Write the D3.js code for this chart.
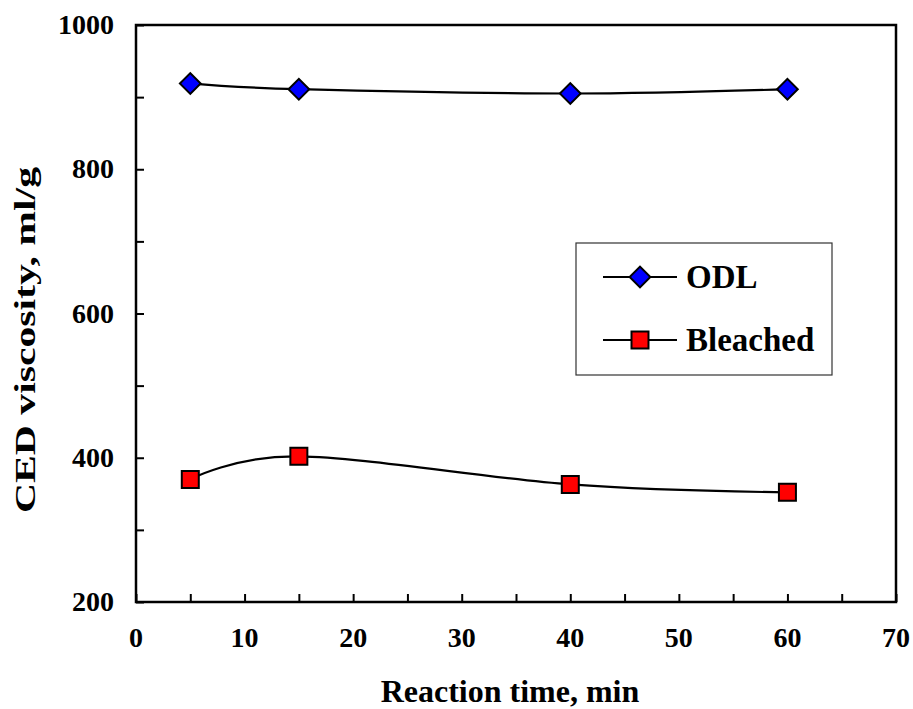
<!DOCTYPE html>
<html lang="en">
<head>
  <meta charset="UTF-8">
  <title>CED viscosity vs reaction time</title>
  <script src="https://d3js.org/d3.v7.min.js"></script>
  <style>
    body {
      margin: 0;
      background: #fff;
    }
    svg text {
      font-family: "Liberation Serif", "Times New Roman", serif;
      font-weight: bold;
      fill: #000;
    }
    .tick-label { font-size: 28px; }
    .axis-title { font-size: 32px; }
    .legend-label { font-size: 33px; }
  </style>
</head>
<body>
  <div id="chart"></div>

  <script>
    // data
    const times = [5, 15, 40, 60];
    const odl = [919, 911, 905, 911];
    const bleached = [370, 402, 363, 352];

    const xTickLabels = [0, 10, 20, 30, 40, 50, 60, 70];
    const yTickLabels = [200, 400, 600, 800, 1000];

    const width = 913;
    const height = 709;
    const plot = { left: 136, right: 896, top: 25, bottom: 602 };

    const svg = d3.select("#chart")
      .append("svg")
      .attr("width", width)
      .attr("height", height);

    const x = d3.scaleLinear().domain([0, 70]).range([plot.left, plot.right]);
    const y = d3.scaleLinear().domain([200, 1000]).range([plot.bottom, plot.top]);

    // inward ticks: x every 5, y every 100
    const xAxis = d3.axisBottom(x).tickValues(d3.range(0, 71, 5)).tickSize(-8).tickFormat("");
    const yAxis = d3.axisLeft(y).tickValues(d3.range(200, 1001, 100)).tickSize(-8).tickFormat("");

    svg.append("g")
      .attr("transform", `translate(0,${plot.bottom})`)
      .call(xAxis)
      .call(g => g.select(".domain").remove())
      .selectAll("line").attr("stroke", "#000").attr("stroke-width", 2);

    svg.append("g")
      .attr("transform", `translate(${plot.left},0)`)
      .call(yAxis)
      .call(g => g.select(".domain").remove())
      .selectAll("line").attr("stroke", "#000").attr("stroke-width", 2);

    // plot frame
    svg.append("rect")
      .attr("x", plot.left)
      .attr("y", plot.top)
      .attr("width", plot.right - plot.left)
      .attr("height", plot.bottom - plot.top)
      .attr("fill", "none")
      .attr("stroke", "#000")
      .attr("stroke-width", 2.5);

    // tick labels
    svg.selectAll(".x-label")
      .data(xTickLabels)
      .enter().append("text")
      .attr("class", "tick-label")
      .attr("x", d => x(d))
      .attr("y", 647)
      .attr("text-anchor", "middle")
      .text(d => d);

    svg.selectAll(".y-label")
      .data(yTickLabels)
      .enter().append("text")
      .attr("class", "tick-label")
      .attr("x", 114)
      .attr("y", d => y(d) + 9)
      .attr("text-anchor", "end")
      .text(d => d);

    // axis titles
    svg.append("text")
      .attr("class", "axis-title")
      .attr("x", 510)
      .attr("y", 702)
      .attr("text-anchor", "middle")
      .text("Reaction time, min");

    svg.append("text")
      .attr("class", "axis-title")
      .attr("transform", "translate(35,340) rotate(-90)")
      .attr("text-anchor", "middle")
      .attr("textLength", 346)
      .attr("lengthAdjust", "spacingAndGlyphs")
      .style("font-size", "30px")
      .text("CED viscosity, ml/g");

    // smoothed lines (Excel-style)
    const line = d3.line()
      .x(d => x(d[0]))
      .y(d => y(d[1]))
      .curve(d3.curveCardinal.tension(0));

    const series = [
      { name: "ODL", values: odl, fill: "#0000ff", rotate: 45, size: 215 },
      { name: "Bleached", values: bleached, fill: "#ff0000", rotate: 0, size: 289 }
    ];

    // diamond = square turned 45 degrees
    function marker(g, s) {
      g.append("path")
        .attr("d", d3.symbol().type(d3.symbolSquare).size(s.size)())
        .attr("transform", `rotate(${s.rotate})`)
        .attr("fill", s.fill)
        .attr("stroke", "#000")
        .attr("stroke-width", 2);
    }

    series.forEach(s => {
      const pts = times.map((t, i) => [t, s.values[i]]);

      svg.append("path")
        .datum(pts)
        .attr("d", line)
        .attr("fill", "none")
        .attr("stroke", "#000")
        .attr("stroke-width", 2.2);

      pts.forEach(p => {
        const g = svg.append("g").attr("transform", `translate(${x(p[0])},${y(p[1])})`);
        marker(g, s);
      });
    });

    // legend
    const legend = svg.append("g");
    legend.append("rect")
      .attr("x", 576)
      .attr("y", 243)
      .attr("width", 256)
      .attr("height", 132)
      .attr("fill", "#fff")
      .attr("stroke", "#333")
      .attr("stroke-width", 1.2);

    series.forEach((s, i) => {
      const ly = 277 + i * 63;
      legend.append("line")
        .attr("x1", 603).attr("x2", 677)
        .attr("y1", ly).attr("y2", ly)
        .attr("stroke", "#000").attr("stroke-width", 2.2);
      const g = legend.append("g").attr("transform", `translate(640,${ly})`);
      marker(g, s);
      legend.append("text")
        .attr("class", "legend-label")
        .attr("x", 686)
        .attr("y", ly + 11)
        .text(s.name);
    });
  </script>
</body>
</html>
